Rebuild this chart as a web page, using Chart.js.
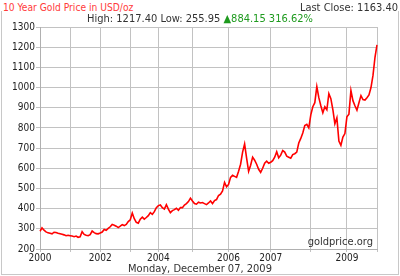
<!DOCTYPE html>
<html><head><meta charset="utf-8">
<script src="https://cdn.jsdelivr.net/npm/chart.js@4/dist/chart.umd.min.js"></script>
<style>
html,body{margin:0;padding:0;background:#fff;}
#wrap{position:relative;width:400px;height:276px;overflow:hidden;font-family:"DejaVu Sans Condensed","DejaVu Sans",Tahoma,sans-serif;}
#box{position:absolute;left:1px;top:11px;width:398px;height:264px;box-sizing:border-box;border:1px solid #c8c8c8;border-top:none;}
canvas{position:absolute;left:0;top:0;}
.t{position:absolute;white-space:nowrap;font-size:11px;line-height:12px;color:#333;}
#title{left:3px;top:2px;color:#ff3b3b;background:#fff;padding-right:2px;font-size:10.2px;}
#last{right:2px;top:2px;background:#fff;padding-left:2px;}
#hl{left:0;width:400px;top:13px;text-align:center;}
#hl .g{color:#1e9a1e;}
#date{left:0;width:400px;top:263px;text-align:center;}
#src{right:27px;top:236px;}
</style></head><body>
<div id="wrap">
<div id="box"></div>
<canvas id="c" width="400" height="276"></canvas>
<div class="t" id="title">10 Year Gold Price in USD/oz</div>
<div class="t" id="last">Last Close: 1163.40</div>
<div class="t" id="hl">High: 1217.40 Low: 255.95 <span class="g">&#9650;884.15 316.62%</span></div>
<div class="t" id="src">goldprice.org</div>
<div class="t" id="date">Monday, December 07, 2009</div>
</div>
<script>
// Gold price samples (USD/oz), grouped by year
const p2000 = [288, 305, 293, 285, 280, 278, 275, 283, 282, 278, 276, 273, 270, 266, 268];
const p2001 = [266, 264, 261, 264, 258, 260, 286, 272, 268, 266, 271, 289, 281, 276, 275];
const p2002 = [279, 284, 297, 293, 302, 310, 322, 318, 313, 306, 313, 321, 316, 322, 336];
const p2003 = [345, 378, 350, 332, 328, 348, 358, 348, 356, 365, 380, 372, 385, 405];
const p2004 = [415, 418, 405, 398, 420, 398, 380, 390, 395, 402, 392, 405, 405, 418, 425, 435, 452];
const p2005 = [438, 425, 422, 432, 428, 430, 425, 420, 428, 438, 425, 440, 445, 465, 472, 488, 530, 508];
const p2006 = [520, 555, 565, 560, 555, 585, 620, 680, 720, 650, 585, 615, 655, 640, 620, 595, 580, 600, 625, 635, 625];
const p2007 = [630, 638, 655, 682, 652, 665, 688, 680, 660, 655, 650, 668, 672, 680, 725, 748, 775, 812, 818, 800];
const p2008 = [865, 905, 925, 1005, 950, 910, 875, 905, 890, 970, 945, 890, 820, 850, 735, 714, 755, 772];
const p2009 = [855, 868, 985, 935, 910, 888, 925, 960, 940, 938, 950, 963, 1000, 1060, 1150, 1212];

const years = [2000, 2001, 2002, 2003, 2004, 2005, 2006, 2007, 2008, 2009];
const yearSeries = [p2000, p2001, p2002, p2003, p2004, p2005, p2006, p2007, p2008, p2009];
const labeledYears = [2000, 2002, 2004, 2006, 2007, 2009];
const yTicks = [200, 300, 400, 500, 600, 700, 800, 900, 1000, 1100, 1200, 1300];

const labels = [];
const prices = [];
const yearStart = new Set();
yearSeries.forEach((arr, k) => {
  yearStart.add(prices.length);
  arr.forEach(v => { labels.push(String(years[k])); prices.push(v); });
});
const lastIdx = prices.length - 1;

const GRID = '#c2c2c2';
const FONT = {family: '"DejaVu Sans Condensed","DejaVu Sans",Tahoma,sans-serif', size: 10};

new Chart(document.getElementById('c'), {
  type: 'line',
  data: {
    labels: labels,
    datasets: [{
      data: prices,
      borderColor: '#ff0000',
      borderWidth: 1.6,
      pointRadius: 0,
      tension: 0,
      fill: false
    }]
  },
  options: {
    responsive: false,
    animation: false,
    devicePixelRatio: 1,
    layout: {padding: {left: 0, right: 23, top: 27, bottom: 0}},
    plugins: {legend: {display: false}, title: {display: false}, tooltip: {enabled: false}},
    scales: {
      x: {
        type: 'category',
        offset: false,
        afterFit: s => { s.height = 27; },
        ticks: {
          autoSkip: false, maxRotation: 0, minRotation: 0, padding: 0,
          color: '#222', font: FONT,
          callback: function(v, i) {
            const y = Number(labels[i]);
            return (yearStart.has(i) && labeledYears.includes(y)) ? String(y) : '';
          }
        },
        grid: {
          color: ctx => (yearStart.has(ctx.index) || ctx.index === lastIdx) ? GRID : 'rgba(0,0,0,0)',
          tickLength: 3,
          drawTicks: true
        },
        border: {color: '#b0b0b0'}
      },
      y: {
        min: 200, max: 1300,
        afterFit: s => { s.width = 40; },
        afterBuildTicks: s => { s.ticks = yTicks.map(v => ({value: v})); },
        ticks: {color: '#222', font: FONT, padding: 1, callback: v => String(v)},
        grid: {color: GRID, tickLength: 4},
        border: {color: '#b0b0b0'}
      }
    }
  }
});
</script>
</body></html>
